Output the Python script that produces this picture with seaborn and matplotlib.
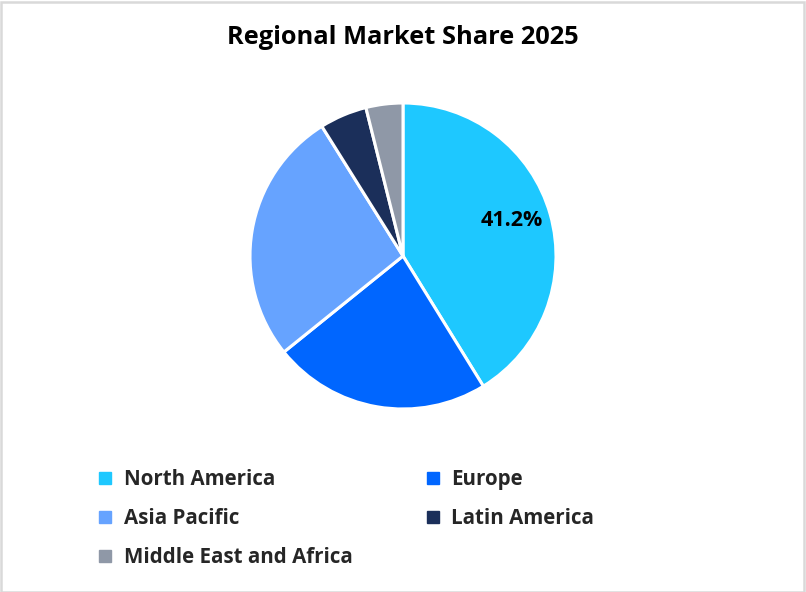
import matplotlib
matplotlib.use("Agg")
import matplotlib.pyplot as plt
from matplotlib.lines import Line2D
from matplotlib.patches import Rectangle
import seaborn as sns

# Data
regions = ["North America", "Europe", "Asia Pacific", "Latin America", "Middle East and Africa"]
shares = [41.2, 23.0, 26.9, 5.0, 3.9]
colors = ["#1EC8FF", "#0066FF", "#66A3FF", "#1B2F5A", "#8F98A7"]

sns.set_theme(style="white")
plt.rcParams["font.family"] = ["Open Sans", "DejaVu Sans"]

fig = plt.figure(figsize=(8.06, 5.92), dpi=100)
W, H = 806, 592
cx, cy, r = 403, 256, 153
ax = fig.add_axes([(cx - r) / W, (H - cy - r) / H, 2 * r / W, 2 * r / H])

def pct_label(p):
    # only the largest slice carries a label in the reference
    return f"{p:.1f}%" if p > 40 else ""

wedges, _, autotexts = ax.pie(
    shares,
    colors=colors,
    startangle=90,
    counterclock=False,
    autopct=pct_label,
    pctdistance=0.75,
    wedgeprops=dict(edgecolor="white", linewidth=2.2),
    textprops=dict(fontsize=15.5, fontweight="bold", color="black"),
)
# nudge the label a little upward, as in the reference
x, y = autotexts[0].get_position()
autotexts[0].set_position((x - 0.01, y + 0.03))
ax.set_xlim(-1, 1)
ax.set_ylim(-1, 1)
ax.set_aspect("equal")

fig.text(0.5, 1 - 37 / H, "Regional Market Share 2025", ha="center", va="center",
         fontsize=18.3, fontweight="bold", color="black")

# legend, row-major order -> reorder for column filling
order = [0, 2, 4, 1, 3]
handles = [Line2D([], [], marker="s", linestyle="none", markersize=9,
                  markerfacecolor=colors[i], markeredgecolor=colors[i]) for i in order]
labels = [regions[i] for i in order]
leg = fig.legend(handles, labels, ncol=2, loc="upper left",
                 bbox_to_anchor=(98 / W, 1 - 469 / H), frameon=False,
                 prop=dict(size=14.8, weight="bold"), handlelength=0.7,
                 handletextpad=0.55, columnspacing=3.55, labelspacing=0.88,
                 borderaxespad=0, borderpad=0)

# light grey frame around the figure
fig.patches.append(Rectangle((0.5 / W, 0.5 / H), 1 - 2.5 / W, 1 - 2.5 / H,
                             transform=fig.transFigure, fill=False,
                             edgecolor="#D9D9D9", linewidth=1.8))

fig.savefig("out.png", dpi=100, facecolor="white")
